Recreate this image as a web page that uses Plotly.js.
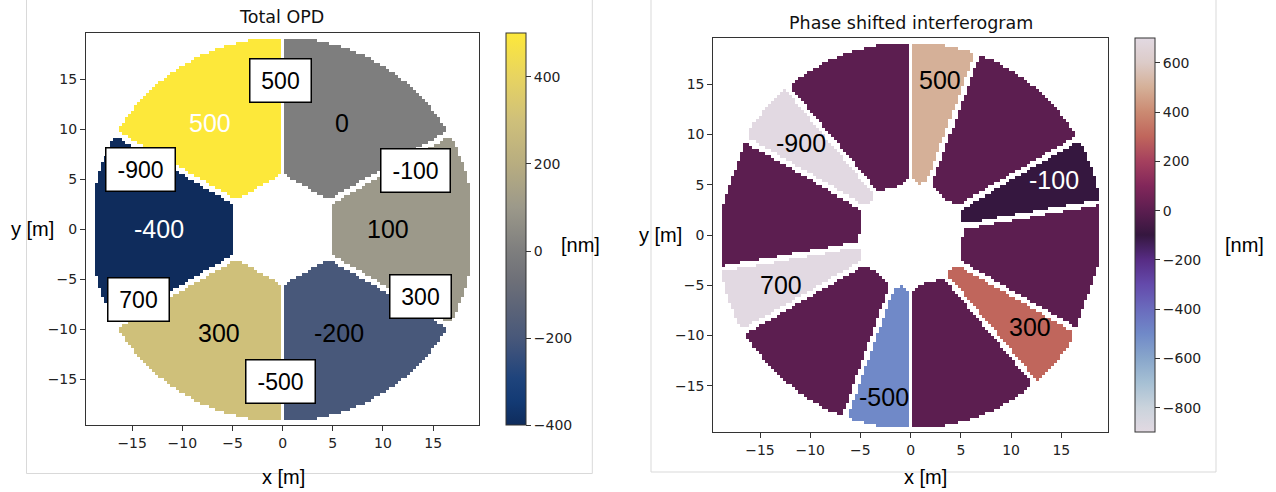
<!DOCTYPE html>
<html>
<head>
<meta charset="utf-8">
<script src="https://cdn.plot.ly/plotly-3.0.1.min.js"></script>
<style>
html,body{margin:0;padding:0;background:#ffffff;}
#chart{width:1276px;height:492px;}
</style>
</head>
<body>
<div id="chart"></div>
<script>
// ---------------- data ----------------
// Piston (OPD) of the six pupil segments, counter-clockwise starting from +x direction
const segmentNames = ['right', 'upper right', 'upper left', 'left', 'lower left', 'lower right'];
const segmentOPD = [100, 0, 500, -400, 300, -200];            // nm
// Labels written on the segments of the left panel
const segmentLabels = ['100', '0', '500', '-400', '300', '-200'];
// Piston differences across each segment gap (boxed in left panel, written in right panel)
const gapLabels = ['500', '-900', '-100', '700', '300', '-500'];
// Rotational shear used to build the phase shifted interferogram (degrees)
const shearAngleDeg = 20;
// Tick values / labels
const axisTickVals = [-15, -10, -5, 0, 5, 10, 15];
const axisTickText = ['\u221215', '\u221210', '\u22125', '0', '5', '10', '15'];
const opdTickVals = [-400, -200, 0, 200, 400];
const opdTickText = ['\u2212400', '\u2212200', '0', '200', '400'];
const psiTickVals = [-800, -600, -400, -200, 0, 200, 400, 600];
const psiTickText = ['\u2212800', '\u2212600', '\u2212400', '\u2212200', '0', '200', '400', '600'];
const opdRange = [-400, 500];
const psiRange = [-900, 700];

// ---------------- pupil geometry ----------------
const R_OUT = 19.2, X_FLAT = 18.6, HOLE_APOTHEM = 4.85, GAP_HALF = 0.27, STEP = 0.3, NHALF = 65;
const coords = [];
for (let i = -NHALF; i <= NHALF; i++) coords.push(+(i * STEP).toFixed(3));

function segIndex(x, y) {
  if (Math.hypot(x, y) > R_OUT || Math.abs(x) > X_FLAT) return -1;
  let inHole = true;
  for (let k = 0; k < 6; k++) {
    const a = k * Math.PI / 3;
    if (x * Math.cos(a) + y * Math.sin(a) > HOLE_APOTHEM) { inHole = false; break; }
  }
  if (inHole) return -1;
  for (let k = 0; k < 6; k++) {
    const g = Math.PI / 6 + k * Math.PI / 3;
    const along = x * Math.cos(g) + y * Math.sin(g);
    const perp = -x * Math.sin(g) + y * Math.cos(g);
    if (along > 0 && Math.abs(perp) < GAP_HALF) return -1;
  }
  let idx = Math.round(Math.atan2(y, x) / (Math.PI / 3));
  return ((idx % 6) + 6) % 6;
}

const zOPD = [], zPSI = [];
const sh = shearAngleDeg * Math.PI / 180, cs = Math.cos(sh), sn = Math.sin(sh);
for (const y of coords) {
  const rowA = [], rowB = [];
  for (const x of coords) {
    const i0 = segIndex(x, y);
    rowA.push(i0 < 0 ? null : segmentOPD[i0]);
    const i1 = segIndex(x * cs - y * sn, x * sn + y * cs);
    rowB.push(i0 < 0 || i1 < 0 ? null : segmentOPD[i1] - segmentOPD[i0]);
  }
  zOPD.push(rowA); zPSI.push(rowB);
}

// matplotlib "cividis"-like colour scale (as it appears in the figure)
const cividis = [
  [0.0, '#0f2c5c'], [0.06, '#133a74'], [0.12, '#1f447c'], [0.18, '#384f7b'],
  [0.222, '#48587a'], [0.3, '#5c6478'], [0.37, '#6e7078'], [0.444, '#7e7e7e'],
  [0.556, '#9c998a'], [0.667, '#b8ad80'], [0.778, '#cfc07a'], [0.89, '#e8d460'],
  [1.0, '#fde83a']
];
// matplotlib "twilight"-like colour scale
const twilight = [
  [0.0, '#e2d9e2'], [0.0625, '#cad3dc'], [0.125, '#a6c0d4'], [0.1875, '#88a6cb'],
  [0.25, '#7089c8'], [0.3125, '#6a6bbd'], [0.375, '#644aab'], [0.4375, '#572c84'],
  [0.5, '#35173f'], [0.5625, '#5c1e50'], [0.625, '#82275a'], [0.6875, '#a5405e'],
  [0.75, '#c0665c'], [0.8125, '#cb8a72'], [0.875, '#d5b098'], [0.9375, '#dccbc8'],
  [1.0, '#e2d9e2']
];

const W = 1276, H = 492;
const px = v => v / W, py = v => 1 - v / H;
const tickFont = {family: 'DejaVu Sans, sans-serif', size: 14, color: '#222'};

function cbar(x0, top, len, tv, tt) {
  return {
    x: px(x0), xanchor: 'left', xref: 'paper', y: py(top), yanchor: 'top', yref: 'paper',
    len: len, lenmode: 'pixels', thickness: 19.5, thicknessmode: 'pixels',
    xpad: 0, ypad: 0, outlinewidth: 1, outlinecolor: '#333',
    tickmode: 'array', tickvals: tv, ticktext: tt, ticks: 'outside', ticklen: 5,
    tickcolor: '#333', tickfont: tickFont
  };
}

const traces = [
  {
    type: 'heatmap', x: coords, y: coords, z: zOPD, xaxis: 'x', yaxis: 'y',
    colorscale: cividis, zmin: opdRange[0], zmax: opdRange[1], hoverinfo: 'skip',
    colorbar: cbar(505.7, 33.3, 392, opdTickVals, opdTickText)
  },
  {
    type: 'heatmap', x: coords, y: coords, z: zPSI, xaxis: 'x2', yaxis: 'y2',
    colorscale: twilight, zmin: psiRange[0], zmax: psiRange[1], hoverinfo: 'skip',
    colorbar: cbar(1134.7, 38.3, 394, psiTickVals, psiTickText)
  }
];

function axis(domain, range, anchor) {
  return {
    domain: domain, range: range, anchor: anchor, showgrid: false, zeroline: false,
    showline: true, mirror: true, linecolor: '#333', linewidth: 1,
    ticks: 'outside', ticklen: 5, tickcolor: '#333', tickmode: 'array',
    tickvals: axisTickVals, ticktext: axisTickText, tickfont: tickFont, fixedrange: true
  };
}

const annotations = [];
function txt(text, x, y, size, family, color, extra) {
  annotations.push(Object.assign({
    text: text, x: px(x), y: py(y), xref: 'paper', yref: 'paper', showarrow: false,
    xanchor: 'center', yanchor: 'middle',
    font: {family: family, size: size, color: color}
  }, extra || {}));
}
const SANS = 'Liberation Sans, Arial, sans-serif';
const DJV = 'DejaVu Sans, sans-serif';
txt('Total OPD', 281.6, 17, 17.5, DJV, '#111');
txt('Phase shifted interferogram', 911.4, 22.5, 17.5, DJV, '#111');
txt('x [m]', 283.7, 476.5, 20, SANS, '#000');
txt('x [m]', 925.7, 476.5, 20, SANS, '#000');
txt('y [m]', 32.7, 229.3, 20, SANS, '#000');
txt('y [m]', 660, 235, 20, SANS, '#000');
txt('[nm]', 580, 245, 20, SANS, '#000');
txt('[nm]', 1244, 245, 20, SANS, '#000');

// labels on segments (left panel)
const segLabelPos = [[10.5, 0], [5.9, 10.6], [-7.2, 10.6], [-12.3, 0], [-6.3, -10.4], [5.6, -10.4]];
const segLabelColor = ['#000', '#000', '#fff', '#fff', '#000', '#000'];
segmentLabels.forEach((t, i) => annotations.push({
  text: t, x: segLabelPos[i][0], y: segLabelPos[i][1], xref: 'x', yref: 'y', showarrow: false,
  font: {family: SANS, size: 25, color: segLabelColor[i]}
}));
// boxed gap labels (left panel)
const boxPos = [[-0.2, 14.88], [-14.2, 5.98], [13.2, 5.88], [-14.4, -7.0], [13.75, -6.77], [-0.2, -15.27]];
gapLabels.forEach((t, i) => annotations.push({
  text: t, x: boxPos[i][0], y: boxPos[i][1], xref: 'x', yref: 'y', showarrow: false,
  font: {family: SANS, size: 23, color: '#000'},
  bgcolor: '#fff', bordercolor: '#000', borderwidth: 1.5, borderpad: 2,
  width: t.length > 3 ? 64 : 56, height: 38
}));
// interferogram labels (right panel)
const psiPos = [[2.9, 15.4], [-10.9, 9.2], [14.3, 5.5], [-12.9, -5.0], [11.9, -9.15], [-2.7, -16.1]];
const psiColor = ['#000', '#000', '#fff', '#000', '#000', '#000'];
gapLabels.forEach((t, i) => annotations.push({
  text: t, x: psiPos[i][0], y: psiPos[i][1], xref: 'x2', yref: 'y2', showarrow: false,
  font: {family: SANS, size: 25, color: psiColor[i]}
}));

const layout = {
  width: W, height: H, margin: {l: 0, r: 0, t: 0, b: 0},
  paper_bgcolor: '#fff', plot_bgcolor: '#fff', showlegend: false,
  xaxis: axis([px(86), px(479.3)], [-19.6, 19.6], 'y'),
  yaxis: axis([py(425.3), py(33.3)], [-19.6, 19.6], 'x'),
  xaxis2: axis([px(713.3), px(1108)], [-19.65, 19.65], 'y2'),
  yaxis2: axis([py(432.3), py(37.7)], [-19.65, 19.65], 'x2'),
  annotations: annotations,
  shapes: [
    {type: 'rect', xref: 'paper', yref: 'paper', x0: px(26.5), x1: px(592.3), y0: py(473.5), y1: 1.05,
     line: {color: '#d9d9d9', width: 1}, fillcolor: 'rgba(0,0,0,0)', layer: 'below'},
    {type: 'rect', xref: 'paper', yref: 'paper', x0: px(651), x1: px(1216), y0: py(472), y1: 1.05,
     line: {color: '#d9d9d9', width: 1}, fillcolor: 'rgba(0,0,0,0)', layer: 'below'}
  ]
};

Plotly.newPlot('chart', traces, layout, {staticPlot: true, displayModeBar: false});
</script>
</body>
</html>
